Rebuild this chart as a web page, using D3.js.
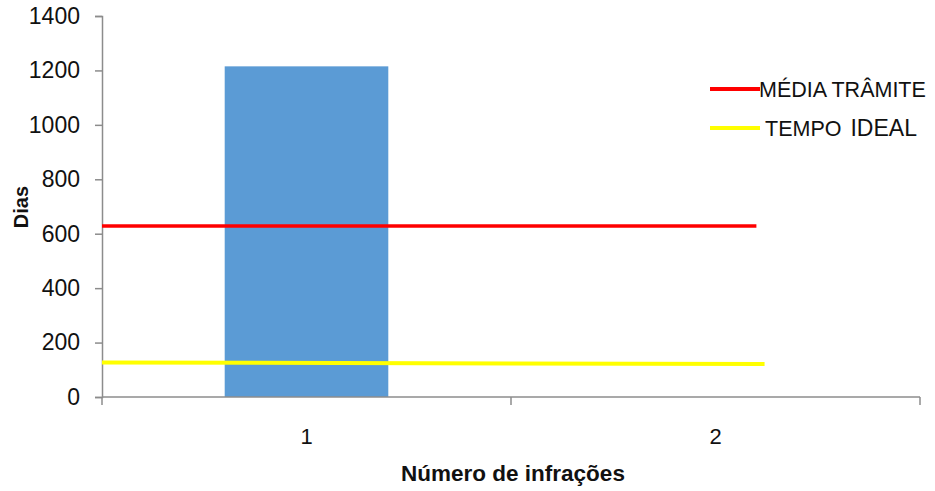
<!DOCTYPE html>
<html>
<head>
<meta charset="utf-8">
<script src="https://cdn.jsdelivr.net/npm/d3@7"></script>
<style>
  html, body { margin: 0; padding: 0; background: #fff; }
  svg { display: block; }
  text { font-family: "Liberation Sans", Arial, sans-serif; fill: #111; }
</style>
</head>
<body>
<svg id="chart" width="935" height="491"></svg>
<script>
// Categories (number of infractions) and days per category
const categories = ["1", "2"];
const barValues = [1215, null];

// Reference lines: [category position, days]
const mediaTramite = [[0.5, 628], [2.1, 628]];
const tempoIdeal = [[0.5, 127], [2.12, 121]];

const yTicks = [0, 200, 400, 600, 800, 1000, 1200, 1400];

const svg = d3.select("#chart");
const margin = { left: 102, right: 15, top: 16, bottom: 94 };
const W = 935, H = 491;
const x0 = margin.left, x1 = W - margin.right;
const y0 = H - margin.bottom, y1 = margin.top;

const x = d3.scaleBand().domain(categories).range([x0, x1]).paddingInner(0).paddingOuter(0);
const xPos = d3.scaleLinear().domain([0.5, 2.5]).range([x0, x1]);
const y = d3.scaleLinear().domain([0, 1400]).range([y0, y1]);

const axisColor = "#8c8c8c";

// Bars (gap width 150%)
const barW = x.bandwidth() * 0.4;
svg.append("g").selectAll("rect")
  .data(categories.map((c, i) => ({ c, v: barValues[i] })).filter(d => d.v != null))
  .join("rect")
  .attr("x", d => x(d.c) + (x.bandwidth() - barW) / 2)
  .attr("y", d => y(d.v))
  .attr("width", barW)
  .attr("height", d => y(0) - y(d.v))
  .attr("fill", "#5b9bd5");

// Y axis
const yAxis = d3.axisLeft(y).tickValues(yTicks).tickSize(7).tickPadding(15).tickFormat(d3.format("d"));
const gy = svg.append("g").attr("transform", `translate(${x0},0)`).call(yAxis);
gy.select(".domain").attr("stroke", axisColor).attr("stroke-width", 1.5);
gy.selectAll(".tick line").attr("stroke", axisColor).attr("stroke-width", 1.5);
gy.selectAll(".tick text").attr("font-size", 23).attr("font-family", "Liberation Sans, Arial, sans-serif").attr("fill", "#111");

// X axis: tick marks at category boundaries, labels at centres
const gx = svg.append("g").attr("transform", `translate(0,${y0})`);
gx.append("line").attr("x1", x0).attr("x2", x1).attr("stroke", axisColor).attr("stroke-width", 1.5);
const bounds = [x0].concat(categories.map(c => x(c) + x.bandwidth()));
gx.selectAll("line.tk").data(bounds).join("line").attr("class", "tk")
  .attr("x1", d => d).attr("x2", d => d).attr("y1", 0).attr("y2", 8)
  .attr("stroke", axisColor).attr("stroke-width", 1.5);
gx.selectAll("text").data(categories).join("text")
  .attr("x", d => x(d) + x.bandwidth() / 2)
  .attr("y", 47)
  .attr("text-anchor", "middle")
  .attr("font-size", 22)
  .text(d => d);

// Reference lines
const line = d3.line().x(d => xPos(d[0])).y(d => y(d[1]));
svg.append("path").datum(tempoIdeal).attr("d", line)
  .attr("fill", "none").attr("stroke", "#ffff00").attr("stroke-width", 4);
svg.append("path").datum(mediaTramite).attr("d", line)
  .attr("fill", "none").attr("stroke", "#ff0000").attr("stroke-width", 3.5);

// Axis titles
svg.append("text")
  .attr("x", (x0 + x1) / 2 + 2)
  .attr("y", 481)
  .attr("text-anchor", "middle")
  .attr("font-size", 22.5)
  .attr("font-weight", "bold")
  .text("Número de infrações");

svg.append("text")
  .attr("transform", "translate(28,207) rotate(-90)")
  .attr("text-anchor", "middle")
  .attr("font-size", 20)
  .attr("font-weight", "bold")
  .text("Dias");

// Legend
const legend = svg.append("g");
const items = [
  { label: "MÉDIA TRÂMITE", color: "#ff0000", y: 89 },
  { label: "TEMPO", extra: "IDEAL", color: "#ffff00", y: 128 }
];
items.forEach(it => {
  legend.append("line").attr("x1", 710).attr("x2", 760).attr("y1", it.y).attr("y2", it.y)
    .attr("stroke", it.color).attr("stroke-width", 4);
  const t = legend.append("text").attr("x", it.extra ? 765 : 759).attr("y", it.y + 8)
    .attr("font-size", 21.5).text(it.label);
  if (it.extra) t.append("tspan").attr("dx", 9).attr("font-size", 23).text(it.extra);
});
</script>
</body>
</html>
